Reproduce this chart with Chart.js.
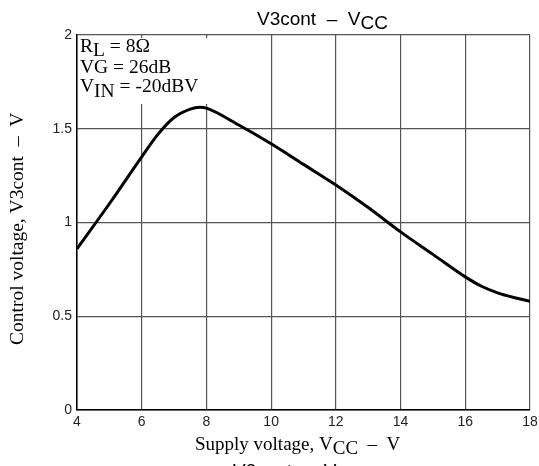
<!DOCTYPE html>
<html>
<head>
<meta charset="utf-8">
<script src="https://cdn.jsdelivr.net/npm/chart.js@4"></script>
<style>
  html, body { margin: 0; padding: 0; background: #fff; }
  #wrap { width: 539px; height: 466px; position: relative; }
</style>
</head>
<body>
<div id="wrap"><canvas id="chart" width="539" height="466"></canvas></div>
<script>
  // supply voltage (V) and control voltage (V)
  var vcc = [4, 5, 6, 6.5, 7, 7.5, 7.8, 8, 9, 10, 11, 12, 13, 14, 15, 16, 16.5, 17, 17.5, 18];
  var v3cont = [0.86, 1.1, 1.35, 1.47, 1.56, 1.605, 1.615, 1.61, 1.52, 1.42, 1.31, 1.2, 1.08, 0.95, 0.83, 0.71, 0.66, 0.625, 0.6, 0.58];
  var xTicks = [4, 6, 8, 10, 12, 14, 16, 18];
  var yTicks = [0, 0.5, 1, 1.5, 2];

  var points = [];
  for (var i = 0; i < vcc.length; i++) {
    points.push({ x: vcc[i], y: v3cont[i] });
  }

  // draws a list of [text, isSub] pieces, subscripts pushed down a bit
  function drawPieces(ctx, pieces, x, y, font, drop) {
    ctx.font = font;
    for (var i = 0; i < pieces.length; i++) {
      var p = pieces[i];
      ctx.fillText(p[0], x, p[1] ? y + drop : y);
      x += ctx.measureText(p[0]).width;
    }
  }

  var textPlugin = {
    id: "texts",
    beforeDatasetsDraw: function(chart) {
      // white patch behind the conditions text hides the grid there
      var ctx = chart.ctx;
      var a = chart.chartArea;
      ctx.save();
      ctx.fillStyle = "#fff";
      ctx.fillRect(a.left + 1, a.top + 3, 132, 66);
      ctx.restore();
    },
    afterDraw: function(chart) {
      var ctx = chart.ctx;
      ctx.save();
      ctx.fillStyle = "#000";
      ctx.textBaseline = "alphabetic";
      ctx.textAlign = "left";

      var sans = '19px "Liberation Sans", Arial, sans-serif';
      var note = '19.5px "Liberation Serif", "Times New Roman", serif';

      // title
      drawPieces(ctx, [["V3cont  \u2013  V", false], ["CC", true]], 257, 25, sans, 4);

      // conditions text
      drawPieces(ctx, [["R", false], ["L", true], [" = 8\u03a9", false]], 80, 52, note, 4);
      drawPieces(ctx, [["VG = 26dB", false]], 80, 73, note, 0);
      drawPieces(ctx, [["V", false], ["IN", true], [" = -20dBV", false]], 80, 92, note, 5);

      // x axis label
      drawPieces(ctx, [["Supply voltage, V", false], ["CC", true], ["  \u2013  V", false]], 195, 450,
        '19px "Liberation Serif", "Times New Roman", serif', 4);

      // y axis label
      ctx.save();
      ctx.translate(23, 345);
      ctx.rotate(-Math.PI / 2);
      drawPieces(ctx, [["Control voltage, V3cont  \u2013  V", false]], 0, 0,
        '19.5px "Liberation Serif", "Times New Roman", serif', 0);
      ctx.restore();

      // repeated title cut off at the bottom of the page
      drawPieces(ctx, [["V3cont  \u2013  V", false], ["CC", true]], 233, 477, sans, 4);

      ctx.restore();
    }
  };

  var ctx = document.getElementById("chart").getContext("2d");
  var chart = new Chart(ctx, {
    type: "line",
    data: {
      datasets: [{
        data: points,
        borderColor: "#000",
        borderWidth: 3,
        pointRadius: 0,
        fill: false,
        cubicInterpolationMode: "monotone"
      }]
    },
    options: {
      responsive: false,
      animation: false,
      layout: { padding: { top: 35, right: 9, left: 0, bottom: 0 } },
      plugins: {
        legend: { display: false },
        tooltip: { enabled: false }
      },
      scales: {
        x: {
          type: "linear",
          min: 4,
          max: 18,
          afterBuildTicks: function(axis) {
            axis.ticks = xTicks.map(function(v) { return { value: v }; });
          },
          afterFit: function(axis) {
            axis.height = 56;
            axis.paddingLeft = 0;
            axis.paddingRight = 0;
          },
          grid: { color: "#555", lineWidth: 1.2, drawTicks: false },
          border: { color: "#000", width: 1.5 },
          ticks: {
            color: "#222",
            padding: 4,
            maxRotation: 0,
            font: { family: '"Liberation Sans", Arial, sans-serif', size: 14 }
          }
        },
        y: {
          type: "linear",
          min: 0,
          max: 2,
          afterBuildTicks: function(axis) {
            axis.ticks = yTicks.map(function(v) { return { value: v }; });
          },
          afterFit: function(axis) {
            axis.width = 77;
            axis.paddingTop = 0;
            axis.paddingBottom = 0;
          },
          grid: { color: "#555", lineWidth: 1.2, drawTicks: false },
          border: { color: "#000", width: 1.5 },
          ticks: {
            color: "#222",
            padding: 5,
            font: { family: '"Liberation Sans", Arial, sans-serif', size: 14 },
            callback: function(v) { return String(v); }
          }
        }
      }
    },
    plugins: [textPlugin]
  });
</script>
</body>
</html>
